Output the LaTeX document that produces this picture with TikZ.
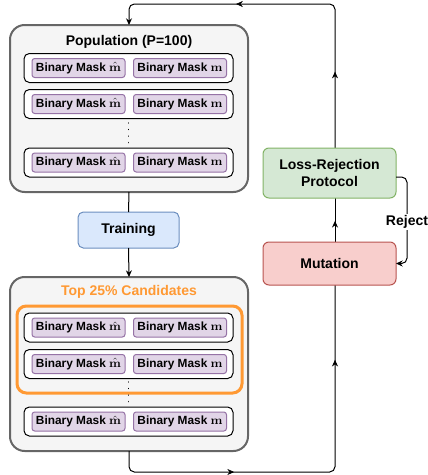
\documentclass[tikz,border=0pt]{standalone}
\usepackage[no-math]{fontspec}
\setmainfont{Liberation Sans}
\usetikzlibrary{arrows.meta,decorations.markings}
\definecolor{outerfill}{HTML}{F5F5F5}
\definecolor{outerdraw}{HTML}{666666}
\definecolor{maskfill}{HTML}{E1D5E7}
\definecolor{maskdraw}{HTML}{9673A6}
\definecolor{trainfill}{HTML}{DAE8FC}
\definecolor{traindraw}{HTML}{6C8EBF}
\definecolor{lrpfill}{HTML}{D5E8D4}
\definecolor{lrpdraw}{HTML}{82B366}
\definecolor{mutfill}{HTML}{F8CECC}
\definecolor{mutdraw}{HTML}{B85450}
\definecolor{topor}{HTML}{FF9933}
\begin{document}
\begin{tikzpicture}[x=0.75pt,y=-0.75pt,
  outer/.style={draw=outerdraw, fill=outerfill, line width=1.5pt, rounded corners=11pt, minimum width=178.5pt, inner sep=0pt, outer sep=0pt},
  rowbox/.style={draw=black, fill=white, line width=0.75pt, rounded corners=4pt, minimum width=156.75pt, minimum height=21.75pt, inner sep=0pt, outer sep=0pt},
  mask/.style={draw=maskdraw, fill=maskfill, line width=0.75pt, rounded corners=2pt, minimum width=69.75pt, minimum height=14.25pt, inner sep=0pt, outer sep=0pt, font=\fontsize{8.9}{10}\selectfont\bfseries},
  titletext/.style={font=\fontsize{10.5}{12}\selectfont\bfseries},
  procbox/.style={line width=0.75pt, rounded corners=4.5pt, minimum width=99.75pt, inner sep=0pt, outer sep=0pt, align=center, font=\fontsize{10.5}{12.5}\selectfont\bfseries},
  conn/.style={line width=0.75pt, draw=black},
  tipa/.tip={Stealth[length=5pt,width=4.5pt]},
  arrowat/.style={postaction={decorate}, decoration={markings, mark=at position #1 with {\arrow{tipa}}}},
  vdots/.style={line width=1pt, dash pattern=on 0.01pt off 4.9pt, line cap=round}
]
\useasboundingbox (0,0) rectangle (428,475);

\coordinate (bl) at (129,472);
\coordinate (br) at (335,472);
\coordinate (tr) at (335,4);
\coordinate (tl) at (129,4);

% ---------- Population ----------
\node[outer, minimum height=125.25pt] (pop) at (129,108.5) {};
\node[titletext] (poptitle) at (129,42) {Population (P=100)};
\node[rowbox] (p1) at (128.5,68) {};
\node[mask] (p1a) at (78.5,68) {Binary Mask $\hat{\mathbf{m}}$};
\node[mask] (p1b) at (180,68) {Binary Mask $\mathbf{m}$};
\node[rowbox] (p2) at (128.5,104) {};
\node[mask] (p2a) at (78.5,104) {Binary Mask $\hat{\mathbf{m}}$};
\node[mask] (p2b) at (180,104) {Binary Mask $\mathbf{m}$};
\draw[vdots] (128.5,123) -- (128.5,144);
\node[rowbox] (p3) at (128.5,162.5) {};
\node[mask] (p3a) at (78.5,162.5) {Binary Mask $\hat{\mathbf{m}}$};
\node[mask] (p3b) at (180,162.5) {Binary Mask $\mathbf{m}$};

% ---------- Training ----------
\node[procbox, draw=traindraw, fill=trainfill, minimum width=75.75pt, minimum height=27pt, rounded corners=4pt] (train) at (128.5,230) {Training};

% ---------- Top 25% ----------
\node[outer, minimum height=130.5pt] (top) at (129,364) {};
\node[titletext, text=topor] (toptitle) at (129,292) {Top 25\% Candidates};
\node[draw=topor, line width=2.25pt, rounded corners=7pt, minimum width=168.75pt, minimum height=65.25pt, inner sep=0pt, outer sep=0pt] (best) at (129.5,349.5) {};
\node[rowbox] (t1) at (128.5,327.5) {};
\node[mask] (t1a) at (78.5,327.5) {Binary Mask $\hat{\mathbf{m}}$};
\node[mask] (t1b) at (180,327.5) {Binary Mask $\mathbf{m}$};
\node[rowbox] (t2) at (128.5,364) {};
\node[mask] (t2a) at (78.5,364) {Binary Mask $\hat{\mathbf{m}}$};
\node[mask] (t2b) at (180,364) {Binary Mask $\mathbf{m}$};
\draw[vdots] (128.5,382) -- (128.5,403);
\node[rowbox] (t3) at (128.5,421.5) {};
\node[mask] (t3a) at (78.5,421.5) {Binary Mask $\hat{\mathbf{m}}$};
\node[mask] (t3b) at (180,421.5) {Binary Mask $\mathbf{m}$};

% ---------- right column connectors ----------
\draw[conn, rounded corners=4pt] (top.south) -- (bl) -- (br) -- (335,285);
\path[arrowat=0.51] (bl) -- (br);
\path[arrowat=0.6] (br) -- (335,285);
\draw[conn, arrowat=0.48] (335,242) -- (335,198);
\draw[conn, rounded corners=4pt, -tipa] (335,148) -- (tr) -- (tl) -- (pop.north);
\path[arrowat=0.53] (335,148) -- (tr);
\path[arrowat=0.48] (tr) -- (tl);

% ---------- process boxes ----------
\node[procbox, draw=lrpdraw, fill=lrpfill, minimum height=37.5pt] (lrp) at (329.5,173) {Loss-Rejection\\Protocol};
\node[procbox, draw=mutdraw, fill=mutfill, minimum height=32.25pt] (mut) at (329.5,263.5) {Mutation};

% Training links
\draw[conn] (pop.south) -- (train.north);
\draw[conn, -tipa] (train.south) -- (top.north);

% Reject loop
\coordinate (rj) at (407,222);
\draw[conn, rounded corners=4pt, -tipa] ([yshift=-3pt]lrp.east) -| (rj) |- (mut.east);
\node[fill=white, inner sep=1pt, font=\fontsize{10.5}{12}\selectfont\bfseries] (rejlbl) at (rj) {Reject};
\end{tikzpicture}
\end{document}
